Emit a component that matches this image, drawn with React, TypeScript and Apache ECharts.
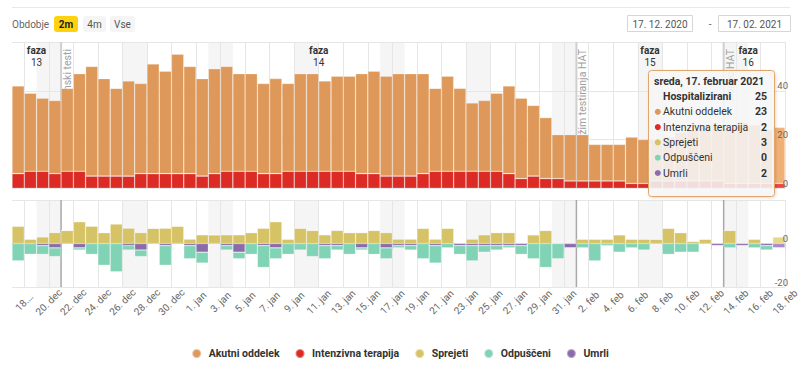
import React, { useEffect, useRef } from 'react';
import * as echarts from 'echarts';

// ---------- data ----------
const START = { y: 2020, m: 11, d: 17 };
const DAY_COUNT = 63;
const MONTH_SHORT = ['jan', 'feb', 'mar', 'apr', 'maj', 'jun', 'jul', 'avg', 'sep', 'okt', 'nov', 'dec'];
const MONTH_LONG = ['januar', 'februar', 'marec', 'april', 'maj', 'junij', 'julij', 'avgust', 'september', 'oktober', 'november', 'december'];
const WEEKDAYS = ['nedelja', 'ponedeljek', 'torek', 'sreda', 'četrtek', 'petek', 'sobota'];

const dayDate = (i: number) => new Date(START.y, START.m, START.d + i);
const shortLabel = (d: Date) => `${d.getDate()}. ${MONTH_SHORT[d.getMonth()]}`;

// one category per day (bars)
const categories = Array.from({ length: DAY_COUNT }, (_, i) => shortLabel(dayDate(i)));
// day boundaries (ticks), 17 dec .. 18 feb
const tickLabels = Array.from({ length: DAY_COUNT + 1 }, (_, i) => shortLabel(dayDate(i)));

const akutniOddelek = [
  36, 32, 30, 30, 34, 40, 45, 40, 36, 39,
  37, 45, 42, 49, 44, 40, 43, 43, 40, 40,
  37, 39, 36, 40, 40, 37, 39, 39, 41, 42,
  41, 42, 42, 41, 34, 39, 34, 28, 29, 32,
  36, 33, 29, 25, 18, 19, 19, 15, 15, 15,
  19, 18, 17, 18, 20, 21, 23, 23, 23, 25,
  24, 22, 23,
];
const intenzivnaTerapija = [
  6, 7, 7, 6, 7, 7, 5, 5, 5, 5,
  6, 6, 6, 6, 6, 5, 6, 7, 7, 7,
  6, 6, 7, 7, 7, 7, 7, 7, 6, 6,
  5, 5, 5, 6, 7, 7, 7, 7, 7, 7,
  6, 4, 5, 4, 4, 3, 3, 3, 3, 3,
  2, 2, 3, 3, 3, 3, 3, 3, 2, 2,
  2, 2, 2,
];
const sprejeti = [
  8, 2, 3, 5, 6, 10, 8, 5, 9, 7,
  5, 7, 7, 8, 2, 4, 4, 4, 4, 5,
  7, 10, 2, 7, 6, 4, 6, 5, 5, 6,
  5, 2, 2, 7, 2, 7, 0, 2, 4, 5,
  5, 0, 4, 6, 0, 0, 2, 2, 2, 4,
  2, 2, 2, 7, 5, 1, 2, 0, 6, 0,
  2, 0, 3,
];
const odpusceni = [
  8, 5, 4, 4, 0, 1, 5, 10, 13, 2,
  3, 0, 9, 0, 6, 5, 0, 2, 3, 5,
  10, 5, 5, 3, 6, 6, 2, 5, 1, 5,
  5, 1, 2, 7, 8, 2, 4, 7, 3, 2,
  1, 4, 7, 11, 7, 0, 2, 8, 1, 4,
  2, 3, 0, 5, 4, 4, 0, 0, 2, 0,
  2, 2, 0,
];
const umrli = [
  0, 0, 1, 2, 0, 2, 0, 0, 0, 1,
  3, 0, 1, 0, 1, 4, 0, 1, 4, 0,
  1, 2, 0, 0, 0, 1, 1, 0, 2, 0,
  2, 1, 1, 0, 1, 0, 1, 1, 1, 1,
  1, 1, 0, 0, 0, 2, 0, 0, 0, 0,
  0, 0, 0, 0, 0, 0, 0, 1, 0, 1,
  0, 1, 2,
];

// weekends (day index from, to)
const weekendBands = [[2, 4], [9, 11], [16, 18], [23, 25], [30, 32], [37, 39], [44, 46], [51, 53], [58, 60]];
const phases = [
  { num: '13', from: 0, to: 4 },
  { num: '14', from: 4, to: 46 },
  { num: '15', from: 46, to: 58 },
  { num: '16', from: 58, to: 62 },
];
const planLines = [
  { day: 4, label: 'Antigenski testi' },
  { day: 46, label: 'Režim testiranja HAT' },
  { day: 58, label: 'Konec HAT' },
];
const periodButtons = ['2m', '4m', 'Vse'];
const dateRange = ['17. 12. 2020', '17. 02. 2021'];

// ---------- styling ----------
const FONT = 'Roboto, "Noto Sans", sans-serif';
const C = {
  akutni: '#de995a',
  intenzivna: '#dc2b25',
  sprejeti: '#d6c365',
  odpusceni: '#80d3b4',
  umrli: '#8b6baa',
};
const HOVER = {
  akutni: '#f1b176',
  intenzivna: '#ef463c',
  sprejeti: '#e6d888',
  odpusceni: '#9fe0c8',
  umrli: '#a88bc8',
};
const LAST = DAY_COUNT - 1;
const isTick = (index: number) => index % 2 === 1;

const withHover = (vals: number[], hover: string, sign = 1) =>
  vals.map((v, i) => (i === LAST ? { value: sign * v, itemStyle: { color: hover } } : sign * v));

const barBase = {
  type: 'bar',
  barCategoryGap: '0%',
  barGap: '0%',
  z: 2,
  silent: true,
};
const border = { borderColor: 'rgba(255,255,255,0.4)', borderWidth: 0.6 };

function bandRender(params: any, api: any) {
  const cs = params.coordSys;
  const x1 = api.coord([api.value(0), 0])[0];
  const x2 = api.coord([api.value(1), 0])[0];
  return {
    type: 'rect',
    shape: { x: x1, y: cs.y, width: x2 - x1, height: cs.height },
    style: { fill: '#f5f5f5' },
  };
}

function lineRender(withLabel: boolean, stroke: string, width: number) {
  return (params: any, api: any) => {
    const cs = params.coordSys;
    const x = api.coord([api.value(0), 0])[0];
    const children: any[] = [
      { type: 'line', shape: { x1: x, y1: cs.y, x2: x, y2: cs.y + cs.height }, style: { stroke, lineWidth: width } },
    ];
    if (withLabel) {
      children.push({
        type: 'text',
        x: x + 1,
        y: cs.y + 7,
        rotation: Math.PI / 2,
        style: {
          text: planLines[params.dataIndex].label,
          fill: '#a0a0a0',
          fontSize: 10.5,
          fontFamily: FONT,
          align: 'right',
          verticalAlign: 'top',
        },
      });
    }
    return { type: 'group', children };
  };
}

function phaseRender(params: any, api: any) {
  const cs = params.coordSys;
  const a = api.coord([api.value(0), 0])[0];
  const b = api.coord([api.value(1), 0])[0];
  const p = phases[params.dataIndex];
  const cx = (a + b) / 2;
  return {
    type: 'group',
    children: [
      {
        type: 'text', x: cx, y: cs.y + 8.5,
        style: { text: 'faza', fontWeight: 'bold', fontSize: 10, fill: '#333', fontFamily: FONT, align: 'center', verticalAlign: 'middle' },
      },
      {
        type: 'text', x: cx, y: cs.y + 20.8,
        style: { text: p.num, fontSize: 10, fill: '#333', fontFamily: FONT, align: 'center', verticalAlign: 'middle' },
      },
    ],
  };
}

function buildGraphic() {
  const g: any[] = [];
  g.push({ type: 'line', shape: { x1: 12, y1: 7.5, x2: 790, y2: 7.5 }, style: { stroke: '#e8e8e8', lineWidth: 1 }, silent: true });
  g.push({ type: 'text', x: 12, y: 24, style: { text: 'Obdobje', fill: '#666', fontSize: 10, fontFamily: FONT, verticalAlign: 'middle' } });
  const btnX = [54, 83, 110];
  const btnW = [24, 23, 25];
  periodButtons.forEach((lab, i) => {
    const active = i === 0;
    g.push({
      type: 'rect',
      shape: { x: btnX[i], y: 16, width: btnW[i], height: 16, r: 3 },
      style: { fill: active ? '#ffd20f' : '#f5f5f5' },
    });
    g.push({
      type: 'text',
      x: btnX[i] + btnW[i] / 2,
      y: 24,
      style: {
        text: lab,
        fill: active ? '#222' : '#555',
        fontSize: 10,
        fontWeight: active ? 'bold' : 'normal',
        fontFamily: FONT,
        align: 'center',
        verticalAlign: 'middle',
      },
    });
  });
  const boxX = [627, 718];
  const boxW = [65, 72];
  dateRange.forEach((t, i) => {
    g.push({ type: 'rect', shape: { x: boxX[i] + 0.5, y: 15.5, width: boxW[i], height: 16 }, style: { fill: '#fff', stroke: '#d6d6d6', lineWidth: 1 } });
    g.push({ type: 'text', x: boxX[i] + 0.5 + boxW[i] / 2, y: 24, style: { text: t, fill: '#555', fontSize: 10, fontFamily: FONT, align: 'center', verticalAlign: 'middle' } });
  });
  g.push({ type: 'text', x: 710, y: 24, style: { text: '-', fill: '#666', fontSize: 10, fontFamily: FONT, align: 'center', verticalAlign: 'middle' } });

  // tooltip for the last day
  const d = dayDate(LAST);
  const title = `${WEEKDAYS[d.getDay()]}, ${d.getDate()}. ${MONTH_LONG[d.getMonth()]} ${d.getFullYear()}`;
  const total = akutniOddelek[LAST] + intenzivnaTerapija[LAST];
  const rows = [
    { name: 'Akutni oddelek', color: C.akutni, v: akutniOddelek[LAST] },
    { name: 'Intenzivna terapija', color: C.intenzivna, v: intenzivnaTerapija[LAST] },
    { name: 'Sprejeti', color: C.sprejeti, v: sprejeti[LAST] },
    { name: 'Odpuščeni', color: C.odpusceni, v: odpusceni[LAST] },
    { name: 'Umrli', color: C.umrli, v: umrli[LAST] },
  ];
  const TX = 648;
  const TY = 70;
  const Z = 100;
  g.push({
    type: 'rect', z: Z,
    shape: { x: TX + 0.5, y: TY + 0.5, width: 126, height: 126, r: 3 },
    style: {
      fill: 'rgba(248,248,248,0.86)',
      stroke: '#e0a66c',
      lineWidth: 1,
      shadowBlur: 3,
      shadowOffsetX: 1,
      shadowOffsetY: 1,
      shadowColor: 'rgba(0,0,0,0.15)',
    },
  });
  g.push({ type: 'text', z: Z + 1, x: TX + 6, y: TY + 11.5, style: { text: title, fill: '#333', fontSize: 10.5, fontWeight: 'bold', fontFamily: FONT, verticalAlign: 'middle' } });
  g.push({ type: 'text', z: Z + 1, x: TX + 15, y: TY + 26.5, style: { text: 'Hospitalizirani', fill: '#333', fontSize: 10.5, fontWeight: 'bold', fontFamily: FONT, verticalAlign: 'middle' } });
  g.push({ type: 'text', z: Z + 1, x: TX + 119, y: TY + 26.5, style: { text: String(total), fill: '#333', fontSize: 10.5, fontWeight: 'bold', fontFamily: FONT, align: 'right', verticalAlign: 'middle' } });
  rows.forEach((r, i) => {
    const y = TY + 41.8 + i * 15.3;
    g.push({ type: 'circle', z: Z + 1, shape: { cx: TX + 9.8, cy: y, r: 3 }, style: { fill: r.color } });
    g.push({ type: 'text', z: Z + 1, x: TX + 15, y, style: { text: r.name, fill: '#333', fontSize: 10.5, fontFamily: FONT, verticalAlign: 'middle' } });
    g.push({ type: 'text', z: Z + 1, x: TX + 119, y, style: { text: String(r.v), fill: '#333', fontSize: 10.5, fontWeight: 'bold', fontFamily: FONT, align: 'right', verticalAlign: 'middle' } });
  });
  return g;
}

function buildOption(): any {
  const gridBase = { left: 12, right: 15, containLabel: false, outerBoundsMode: 'none' };
  const splitX = { show: true, interval: isTick, lineStyle: { color: '#e6e6e6', width: 1 } };
  const yLabel = {
    show: true,
    margin: 3,
    align: 'right',
    verticalAlign: 'bottom',
    color: '#666',
    fontSize: 9.5,
    fontFamily: FONT,
  };
  return {
    animation: false,
    backgroundColor: '#fff',
    textStyle: { fontFamily: FONT },
    tooltip: { show: false },
    grid: [
      { ...gridBase, top: 42, height: 146.3 },
      { ...gridBase, top: 200, height: 87 },
    ],
    xAxis: [
      { type: 'category', gridIndex: 0, data: categories, boundaryGap: true, show: false },
      {
        type: 'category', gridIndex: 0, data: tickLabels, boundaryGap: false, position: 'bottom', z: 1,
        axisLine: { show: false }, axisTick: { show: false }, axisLabel: { show: false }, splitLine: splitX,
      },
      { type: 'category', gridIndex: 1, data: categories, boundaryGap: true, show: false },
      {
        type: 'category', gridIndex: 1, data: tickLabels, boundaryGap: false, position: 'bottom', z: 1,
        axisLine: { show: true, lineStyle: { color: '#ccd6eb', width: 1 } },
        axisTick: { show: true, interval: isTick, length: 6, lineStyle: { color: '#ccd6eb' } },
        axisLabel: {
          show: true,
          interval: isTick,
          rotate: 45,
          align: 'center',
          verticalAlign: 'middle',
          margin: 15,
          color: '#666',
          fontSize: 10,
          fontFamily: FONT,
          formatter: (v: string, idx: number) => (idx === 1 ? v.slice(0, 3) + '…' : v),
        },
        splitLine: splitX,
      },
    ],
    yAxis: [
      {
        type: 'value', gridIndex: 0, min: 0, max: 60, interval: 20, z: 1,
        axisLine: { show: false }, axisTick: { show: false }, axisLabel: { show: false },
        splitLine: { show: true, lineStyle: { color: '#e6e6e6' } },
      },
      {
        type: 'value', gridIndex: 0, position: 'right', min: 0, max: 60, interval: 20, z: 4,
        axisLine: { show: false }, axisTick: { show: false }, splitLine: { show: false },
        axisLabel: { ...yLabel, formatter: (v: number) => (v === 60 ? '' : String(v)) },
      },
      {
        type: 'value', gridIndex: 1, min: -20, max: 20, interval: 20, z: 1,
        axisLine: { show: false }, axisTick: { show: false }, axisLabel: { show: false },
        splitLine: { show: true, lineStyle: { color: '#e6e6e6' } },
      },
      {
        type: 'value', gridIndex: 1, position: 'right', min: -20, max: 20, interval: 20, z: 4,
        axisLine: { show: false }, axisTick: { show: false }, splitLine: { show: false },
        axisLabel: { ...yLabel, formatter: (v: number) => (v === 20 ? '' : String(v)) },
      },
    ],
    legend: {
      data: ['Akutni oddelek', 'Intenzivna terapija', 'Sprejeti', 'Odpuščeni', 'Umrli'],
      left: 'center',
      top: 343,
      icon: 'circle',
      itemWidth: 14,
      itemHeight: 9,
      itemGap: 15,
      selectedMode: false,
      textStyle: { fontFamily: FONT, fontSize: 10.5, fontWeight: 'bold', color: '#333' },
    },
    series: [
      { type: 'custom', xAxisIndex: 1, yAxisIndex: 0, z: 0, silent: true, data: weekendBands, renderItem: bandRender },
      { type: 'custom', xAxisIndex: 3, yAxisIndex: 2, z: 0, silent: true, data: weekendBands, renderItem: bandRender },
      {
        type: 'custom', xAxisIndex: 1, yAxisIndex: 0, z: 1.5, silent: true,
        data: planLines.map((p) => [p.day, 0]), renderItem: lineRender(true, '#cfcfcf', 2),
      },
      {
        type: 'custom', xAxisIndex: 3, yAxisIndex: 2, z: 1.5, silent: true,
        data: planLines.map((p) => [p.day, 0]), renderItem: lineRender(false, '#a8a8a8', 1.5),
      },
      {
        ...barBase, name: 'Intenzivna terapija', xAxisIndex: 0, yAxisIndex: 0, stack: 'hosp',
        itemStyle: { color: C.intenzivna, ...border },
        data: withHover(intenzivnaTerapija, HOVER.intenzivna),
      },
      {
        ...barBase, name: 'Akutni oddelek', xAxisIndex: 0, yAxisIndex: 0, stack: 'hosp',
        itemStyle: { color: C.akutni, ...border },
        data: withHover(akutniOddelek, HOVER.akutni),
      },
      {
        ...barBase, name: 'Sprejeti', xAxisIndex: 2, yAxisIndex: 2, stack: 'flow',
        itemStyle: { color: C.sprejeti, ...border },
        data: withHover(sprejeti, HOVER.sprejeti),
      },
      {
        ...barBase, name: 'Umrli', xAxisIndex: 2, yAxisIndex: 2, stack: 'flow',
        itemStyle: { color: C.umrli, ...border },
        data: withHover(umrli, HOVER.umrli, -1),
      },
      {
        ...barBase, name: 'Odpuščeni', xAxisIndex: 2, yAxisIndex: 2, stack: 'flow',
        itemStyle: { color: C.odpusceni, ...border },
        data: withHover(odpusceni, HOVER.odpusceni, -1),
      },
      {
        type: 'custom', xAxisIndex: 1, yAxisIndex: 0, z: 3, silent: true,
        data: phases.map((p) => [p.from, p.to]), renderItem: phaseRender,
      },
    ],
    graphic: buildGraphic(),
  };
}

export default function App() {
  const ref = useRef<HTMLDivElement>(null);
  useEffect(() => {
    document.body.style.margin = '0';
    if (!ref.current) return;
    const chart = echarts.init(ref.current, null, { renderer: 'svg' });
    chart.setOption(buildOption());
    return () => chart.dispose();
  }, []);
  return <div ref={ref} style={{ position: 'relative', width: 800, height: 367, background: '#fff' }} />;
}
